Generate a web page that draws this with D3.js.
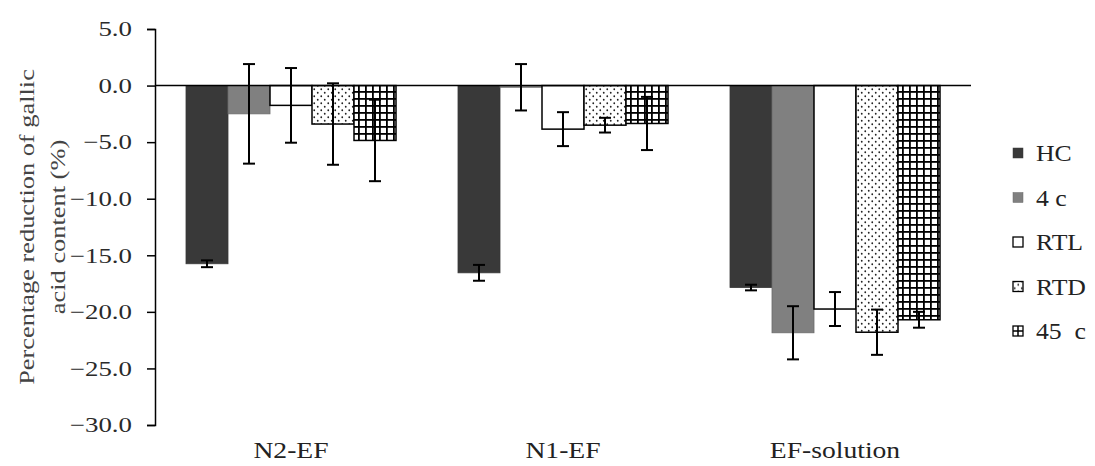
<!DOCTYPE html>
<html>
<head>
<meta charset="utf-8">
<script src="https://cdn.jsdelivr.net/npm/d3@7"></script>
<style>
  html, body { margin: 0; padding: 0; background: #fff; }
  svg { display: block; font-family: "Liberation Serif", "Times New Roman", serif; }
</style>
</head>
<body>
<svg id="chart" width="1095" height="466"></svg>
<script>
// ---- data ----
const categories = ["N2-EF", "N1-EF", "EF-solution"];
const seriesNames = ["HC", "4 c", "RTL", "RTD", "45  c"];
const valHC  = [-15.75, -16.55, -17.85];
const val4c  = [-2.5, -0.15, -21.85];
const valRTL = [-1.75, -3.85, -19.75];
const valRTD = [-3.4, -3.5, -21.8];
const val45c = [-4.85, -3.35, -20.7];
const errHC  = [0.3, 0.7, 0.25];
const err4c  = [4.4, 2.05, 2.35];
const errRTL = [3.3, 1.5, 1.5];
const errRTD = [3.6, 0.65, 2.0];
const err45c = [3.6, 2.35, 0.7];
const yTicks = [5, 0, -5, -10, -15, -20, -25, -30];
const yTitleLines = ["Percentage reduction of gallic", "acid content (%)"];

const values = [valHC, val4c, valRTL, valRTD, val45c];
const errors = [errHC, err4c, errRTL, errRTD, err45c];

const SX = 1.2;      // horizontal stretch of the original typeface
const SX_TICK = 1.28;
const SX_LEG = 1.12;

const svg = d3.select("#chart");
const defs = svg.append("defs");

// dot pattern (RTD)
const dots = defs.append("pattern").attr("id", "dots").attr("patternUnits", "userSpaceOnUse")
  .attr("width", 7).attr("height", 7);
dots.append("rect").attr("width", 7).attr("height", 7).attr("fill", "#fff");
dots.append("circle").attr("cx", 1.75).attr("cy", 1.75).attr("r", 0.9).attr("fill", "#222");
dots.append("circle").attr("cx", 5.25).attr("cy", 5.25).attr("r", 0.9).attr("fill", "#222");

// grid pattern (45 c)
const grid = defs.append("pattern").attr("id", "grid").attr("patternUnits", "userSpaceOnUse")
  .attr("width", 7).attr("height", 7);
grid.append("rect").attr("width", 7).attr("height", 7).attr("fill", "#fff");
grid.append("rect").attr("x", 0).attr("y", 0).attr("width", 1.8).attr("height", 7).attr("fill", "#000");
grid.append("rect").attr("x", 0).attr("y", 0).attr("width", 7).attr("height", 1.8).attr("fill", "#000");

const fills = ["#393939", "#808080", "#ffffff", "url(#dots)", "url(#grid)"];
const strokes = ["#393939", "#6a6a6a", "#000", "#000", "#000"];

const plotL = 155, plotR = 971, plotT = 29, plotB = 425;

const x0 = d3.scaleBand().domain(categories).range([plotL, plotR]).padding(0);
const x1 = d3.scaleBand().domain(seriesNames).range([31, x0.bandwidth() - 31]).padding(0);
const y = d3.scaleLinear().domain([-30, 5]).range([plotB, plotT]);

// y axis
const yAxis = svg.append("g").attr("transform", `translate(${plotL},0)`)
  .call(d3.axisLeft(y).tickValues(yTicks).tickFormat(d3.format(".1f")).tickSize(8).tickPadding(8));
yAxis.select(".domain").attr("stroke", "#000").attr("stroke-width", 1.5);
yAxis.selectAll(".tick line").attr("stroke", "#000").attr("stroke-width", 1.5);
yAxis.selectAll(".tick text")
  .attr("x", null)
  .attr("transform", `translate(-23,0) scale(${SX_TICK},1)`)
  .attr("font-size", 21).attr("fill", "#2a2a2a")
  .attr("font-family", "Liberation Serif, serif");

// bars
const groups = svg.append("g").selectAll("g").data(categories).join("g")
  .attr("transform", d => `translate(${x0(d)},0)`);

seriesNames.forEach((s, si) => {
  groups.append("rect")
    .attr("x", x1(s))
    .attr("width", x1.bandwidth())
    .attr("y", (d, ci) => y(Math.max(0, values[si][ci])))
    .attr("height", (d, ci) => Math.abs(y(values[si][ci]) - y(0)))
    .attr("fill", fills[si])
    .attr("stroke", strokes[si])
    .attr("stroke-width", si >= 2 ? 1.5 : 0.8);
});

// zero line
svg.append("line").attr("x1", plotL).attr("x2", plotR).attr("y1", y(0)).attr("y2", y(0))
  .attr("stroke", "#000").attr("stroke-width", 1.5);

// error bars
seriesNames.forEach((s, si) => {
  groups.each(function(d, ci) {
    const g = d3.select(this);
    const cx = x1(s) + x1.bandwidth() / 2;
    const v = values[si][ci], e = errors[si][ci];
    const eb = g.append("g").attr("stroke", "#000").attr("stroke-width", 2);
    eb.append("line").attr("x1", cx).attr("x2", cx).attr("y1", y(v + e)).attr("y2", y(v - e));
    eb.append("line").attr("x1", cx - 6).attr("x2", cx + 6).attr("y1", y(v + e)).attr("y2", y(v + e));
    eb.append("line").attr("x1", cx - 6).attr("x2", cx + 6).attr("y1", y(v - e)).attr("y2", y(v - e));
  });
});

// category labels
svg.append("g").selectAll("text").data(categories).join("text")
  .attr("transform", d => `translate(${x0(d) + x0.bandwidth() / 2},458) scale(${SX},1)`)
  .attr("text-anchor", "middle")
  .attr("font-size", 23)
  .attr("fill", "#222")
  .text(d => d);

// y title
const yt = svg.append("text")
  .attr("transform", `translate(0,${(plotT + plotB) / 2}) rotate(-90) scale(${SX},1)`)
  .attr("text-anchor", "middle").attr("font-size", 22).attr("fill", "#444");
yt.append("tspan").attr("x", 0).attr("y", 34).text(yTitleLines[0]);
yt.append("tspan").attr("x", 0).attr("y", 65).text(yTitleLines[1]);

// legend
const legend = svg.append("g").selectAll("g").data(seriesNames).join("g")
  .attr("transform", (d, i) => `translate(1013,${153 + i * 44.5})`);
legend.append("rect")
  .attr("x", 0).attr("y", -5).attr("width", 10).attr("height", 10)
  .attr("fill", (d, i) => i === 4 ? "#fff" : fills[i])
  .attr("stroke", (d, i) => i >= 2 ? "#000" : strokes[i])
  .attr("stroke-width", (d, i) => i >= 2 ? 1.3 : 0.5);
legend.filter((d, i) => i === 4).append("path")
  .attr("d", "M5,-5V5M0,0H10").attr("stroke", "#000").attr("stroke-width", 1.5);
legend.append("text")
  .attr("transform", `translate(23,0) scale(${SX_LEG},1)`)
  .attr("dy", "0.35em")
  .attr("font-size", 23).attr("fill", "#222")
  .attr("xml:space", "preserve")
  .style("white-space", "pre")
  .text(d => d);
</script>
</body>
</html>
